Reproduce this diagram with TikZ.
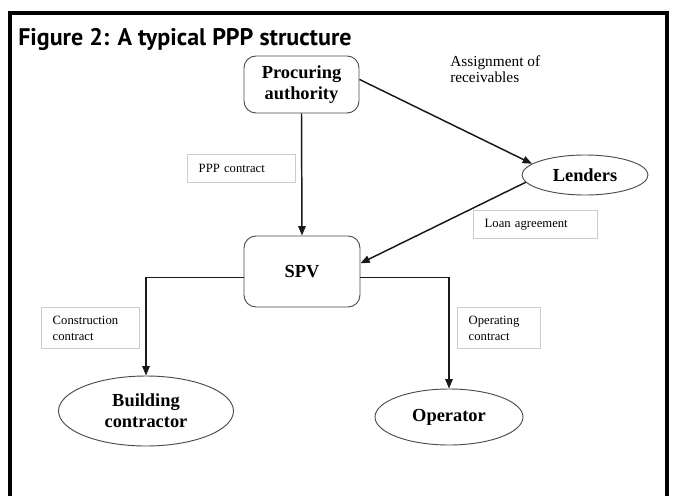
\documentclass[tikz,border=0pt]{standalone}
\usepackage{fontspec}
\setmainfont{Liberation Serif}
\newfontfamily\titlefont{PT Sans}
\usetikzlibrary{arrows.meta,shapes.geometric}
\begin{document}
\begin{tikzpicture}[x=0.75pt,y=-0.75pt,
  conn/.style={draw=black!90,line width=1.1pt,-{Triangle[length=7pt,width=5.5pt]}},
  rbox/.style={draw=black!70,line width=0.7pt,rounded corners=9pt,font=\fontsize{13.8}{15.5}\selectfont\bfseries,align=center,inner sep=0pt},
  ell/.style={ellipse,draw=black!70,line width=0.7pt,font=\fontsize{13.8}{15.5}\selectfont\bfseries,align=center,inner sep=0pt},
  lbl/.style={draw=black!20,line width=0.6pt,font=\fontsize{9.5}{12}\selectfont,align=left,anchor=north west,inner xsep=8.5pt,inner ysep=0pt}]
\useasboundingbox (0,0) rectangle (674,496);
\fill[white] (0,0) rectangle (674,496);
% frame
\draw[line width=2.3pt] (10,496) -- (10,13) -- (667,13) -- (667,496);
\node[anchor=base west,inner sep=0pt,font=\titlefont\bfseries\fontsize{18}{20}\selectfont] (title) at (18,45) {Figure 2: A typical PPP structure};
% nodes
\node[rbox,minimum width=115*0.75pt,minimum height=57*0.75pt] (pa) at (301.5,84.5) {Procuring\\authority};
\node[rbox,minimum width=116*0.75pt,minimum height=71*0.75pt] (spv) at (302,271.5) {\raisebox{-6pt}{SPV}};
\node[ell,minimum width=126*0.75pt,minimum height=40*0.75pt] (lenders) at (585,175) {Lenders};
\node[ell,minimum width=175*0.75pt,minimum height=70*0.75pt] (bc) at (146,411) {Building\\contractor};
\node[ell,minimum width=148*0.75pt,minimum height=56*0.75pt] (op) at (449,417) {Operator};
% labels
\node[lbl,text width=108*0.75pt-17pt,minimum height=28*0.75pt] (l1) at (187,154) {PPP contract};
\node[lbl,text width=124*0.75pt-17pt,minimum height=28*0.75pt] (l2) at (473,210) {Loan agreement};
\node[lbl,text width=98*0.75pt-17pt,minimum height=41*0.75pt] (l3) at (41,307) {Construction\\contract};
\node[lbl,text width=83*0.75pt-17pt,minimum height=41*0.75pt] (l4) at (457,307) {Operating\\contract};
\node[anchor=base west,inner sep=0pt,align=left,font=\fontsize{11.5}{12}\selectfont] (asg) at (450,82) {Assignment of\\receivables};
% connectors
\draw[conn] (pa.south) -- (spv.north);
\draw[conn] (pa.5) -- (lenders.168);
\draw[conn] (lenders.187) -- (spv.8);
\draw[conn] (spv.186) -| (bc.north);
\draw[conn] (spv.-6) -| (op.north);
\end{tikzpicture}
\end{document}
